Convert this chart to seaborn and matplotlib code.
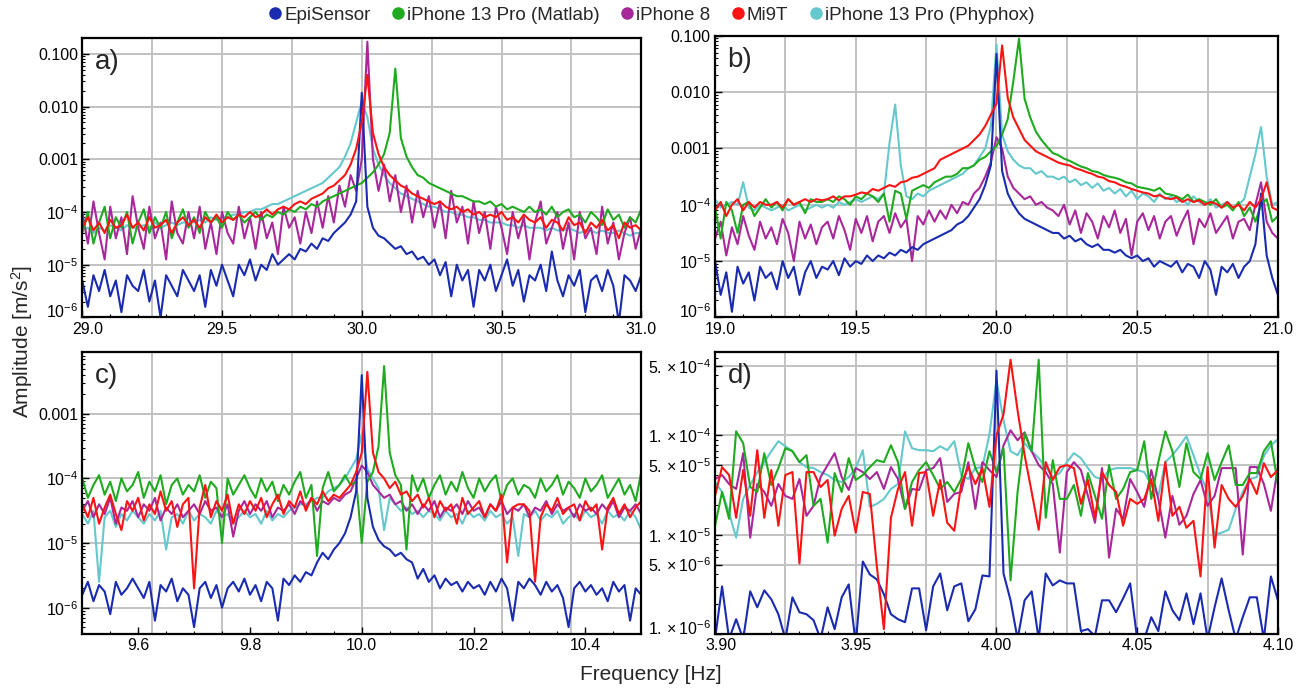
import matplotlib
matplotlib.use("Agg")
import matplotlib.pyplot as plt
import matplotlib.ticker as mticker
import matplotlib.transforms as mtransforms
from matplotlib.lines import Line2D
import numpy as np
import pandas as pd
import seaborn as sns

DEVICES = ["EpiSensor", "iPhone 13 Pro (Matlab)", "iPhone 8", "Mi9T", "iPhone 13 Pro (Phyphox)"]
COLORS = {
    "EpiSensor": "#1a2bb0",
    "iPhone 13 Pro (Matlab)": "#20aa20",
    "iPhone 8": "#a8289c",
    "Mi9T": "#fa1414",
    "iPhone 13 Pro (Phyphox)": "#64c8cc",
}
# Mi9T ends up on top, Phyphox mostly hidden underneath
DRAW_ORDER = ["iPhone 13 Pro (Phyphox)", "iPhone 8", "iPhone 13 Pro (Matlab)", "EpiSensor", "Mi9T"]

# all amplitudes stored as log10(m/s^2), evenly spaced bins over each span

# ---- a) 29.0 - 31.0 Hz ----
a_epi = [-5.3, -5.8, -5.2, -5.5, -5.1, -5.6, -5.3, -5.9, -5.2, -5.4,
         -5.5, -5.1, -5.7, -5.3, -6.0, -5.2, -5.4, -5.6, -5.1, -5.3,
         -5.5, -5.2, -5.8, -5.1, -5.4, -5.0, -5.3, -5.6, -5.0, -5.2,
         -4.9, -5.3, -5.0, -5.1, -4.8, -5.0, -4.9, -4.8, -4.9, -4.7,
         -4.75, -4.6, -4.7, -4.5, -4.55, -4.4, -4.3, -4.2, -4.05, -3.8,
         -1.74,
         -3.9, -4.3, -4.45, -4.5, -4.6, -4.7, -4.65, -4.8, -4.75, -4.9,
         -4.85, -5.0, -4.9, -5.2, -4.95, -5.6, -5.0, -5.3, -5.1, -5.8,
         -5.1, -5.3, -5.0, -5.5, -5.2, -4.9, -5.4, -5.1, -5.7, -5.2,
         -5.3, -5.0, -5.5, -4.75, -5.3, -5.6, -5.2, -5.4, -5.1, -5.9,
         -5.3, -5.2, -5.5, -5.1, -5.4, -6.1, -5.2, -5.3, -5.5, -5.2]
a_matlab = [-4.4, -4.0, -4.6, -4.2, -3.9, -4.5, -4.1, -4.3, -4.0, -4.6,
            -4.2, -3.95, -4.4, -4.1, -4.3, -4.0, -4.5, -4.2, -3.95, -4.3,
            -4.1, -4.4, -4.0, -4.2, -4.1, -4.3, -4.0, -4.15, -4.05, -4.2,
            -4.1, -4.0, -4.15, -4.05, -4.1, -4.0, -4.05, -3.95, -4.0, -3.9,
            -3.95, -3.85, -3.9, -3.8, -3.75, -3.7, -3.65, -3.6, -3.55, -3.5,
            -3.45,
            -3.35, -3.25, -3.1, -2.9, -2.5, -1.28, -2.6, -2.95, -3.15, -3.3,
            -3.35, -3.45, -3.5, -3.55, -3.6, -3.65, -3.7, -3.7, -3.75, -3.8,
            -3.8, -3.85, -3.8, -3.9, -3.85, -3.95, -3.9, -3.95, -4.0, -3.9,
            -4.0, -3.95, -4.05, -3.9, -4.1, -4.0, -3.95, -4.1, -4.05, -4.2,
            -4.0, -4.1, -4.25, -3.95, -4.15, -4.05, -4.3, -4.1, -4.2, -3.95]
a_iphone8 = [-4.0, -4.6, -3.8, -4.4, -4.9, -3.9, -4.5, -4.1, -4.8, -3.7,
             -4.3, -4.7, -3.9, -4.5, -4.2, -4.9, -3.8, -4.4, -4.6, -4.0,
             -4.5, -3.9, -4.7, -4.2, -4.8, -4.0, -4.4, -4.6, -3.9, -4.5,
             -4.1, -4.7, -4.0, -4.5, -4.2, -4.8, -3.9, -4.3, -4.1, -4.6,
             -4.0, -4.4, -3.8, -4.3, -3.7, -4.2, -3.5, -3.9, -3.3, -3.6,
             -3.0, -0.77,
             -3.0, -3.6, -3.1, -3.8, -3.3, -4.0, -3.5, -4.2, -3.6,
             -4.1, -3.7, -4.3, -3.8, -4.5, -3.6, -4.2, -3.9, -4.6, -3.8,
             -4.4, -4.0, -4.7, -3.9, -4.3, -4.8, -4.0, -4.5, -4.1, -4.9,
             -4.2, -3.8, -4.6, -4.3, -4.0, -4.7, -4.2, -4.9, -4.0, -4.5,
             -4.3, -4.8, -3.9, -4.6, -4.2, -4.9, -4.4, -4.1, -4.7, -4.3]
a_mi9t = [-4.3, -4.1, -4.35, -4.2, -4.4, -4.15, -4.3, -4.25, -4.05, -4.3,
          -4.2, -4.35, -4.1, -4.3, -4.25, -4.15, -4.4, -4.2, -4.1, -4.25,
          -4.15, -4.3, -4.1, -4.2, -4.05, -4.2, -4.1, -4.15, -4.05, -4.1,
          -4.0, -4.1, -4.05, -3.95, -4.05, -3.95, -3.9, -3.95, -3.85, -3.8,
          -3.85, -3.75, -3.7, -3.65, -3.55, -3.5, -3.4, -3.3, -3.1, -2.8,
          -2.3, -1.4,
          -2.5, -2.9, -3.15, -3.3, -3.4, -3.5, -3.55, -3.65, -3.7,
          -3.75, -3.8, -3.85, -3.8, -3.9, -3.95, -3.9, -4.0, -3.95, -4.05,
          -4.0, -4.1, -4.05, -4.1, -4.0, -4.15, -4.1, -4.2, -4.05, -4.15,
          -4.2, -4.1, -4.3, -4.15, -4.2, -4.35, -4.1, -4.25, -4.2, -4.4,
          -4.2, -4.3, -4.15, -4.35, -4.25, -4.5, -4.2, -4.3, -4.25, -4.35]
a_phyphox = [-4.35, -4.3, -4.4, -4.3, -4.35, -4.25, -4.3, -4.35, -4.25, -4.3,
             -4.3, -4.25, -4.3, -4.2, -4.3, -4.25, -4.2, -4.25, -4.2, -4.2,
             -4.2, -4.15, -4.2, -4.1, -4.15, -4.1, -4.1, -4.05, -4.05, -4.0,
             -4.0, -3.95, -3.95, -3.9, -3.85, -3.85, -3.8, -3.75, -3.7, -3.65,
             -3.6, -3.55, -3.5, -3.45, -3.35, -3.25, -3.15, -2.95, -2.7, -2.3,
             -1.9, -2.2,
             -2.8, -3.1, -3.3, -3.45, -3.55, -3.65, -3.7, -3.75, -3.8,
             -3.85, -3.9, -3.9, -3.95, -4.0, -4.0, -4.05, -4.05, -4.1, -4.1,
             -4.15, -4.15, -4.2, -4.2, -4.2, -4.25, -4.25, -4.3, -4.25, -4.3,
             -4.3, -4.3, -4.35, -4.3, -4.35, -4.35, -4.3, -4.35, -4.4, -4.35,
             -4.35, -4.4, -4.35, -4.4, -4.4, -4.35, -4.4, -4.45, -4.4, -4.4]

# ---- b) 19.0 - 21.0 Hz ----
b_epi = [-5.0, -5.6, -5.2, -5.9, -5.1, -5.4, -5.2, -5.7, -5.1, -5.3,
         -5.2, -5.5, -5.0, -5.3, -5.1, -5.6, -5.2, -5.0, -5.3, -5.1,
         -5.15, -5.0, -5.25, -4.95, -5.1, -5.0, -5.05, -4.9, -5.0, -4.9,
         -4.95, -4.85, -4.9, -4.8, -4.85, -4.75, -4.8, -4.7, -4.65, -4.6,
         -4.55, -4.5, -4.45, -4.35, -4.3, -4.2, -4.05, -3.9, -3.65, -3.3,
         -1.32,
         -3.4, -3.8, -4.0, -4.15, -4.25, -4.3, -4.35, -4.4, -4.45, -4.5,
         -4.5, -4.6, -4.55, -4.65, -4.6, -4.7, -4.75, -4.7, -4.8, -4.8,
         -4.85, -4.8, -4.9, -4.95, -4.9, -5.0, -4.95, -5.1, -5.0, -5.05,
         -5.1, -5.0, -5.2, -5.05, -5.1, -5.3, -5.0, -5.15, -5.6, -5.1,
         -5.2, -5.05, -5.3, -5.1, -5.0, -4.7, -3.8, -4.9, -5.3, -5.6]
b_matlab = [-4.05, -4.6, -3.95, -4.1, -4.5, -4.0, -3.95, -4.2, -4.05, -3.9,
            -4.05, -3.95, -4.1, -3.9, -4.0, -3.95, -4.15, -3.9, -3.95, -3.95,
            -3.9, -3.95, -3.85, -3.9, -4.0, -3.85, -3.9, -3.8, -3.85, -3.95,
            -3.8, -4.3, -3.75, -3.8, -4.25, -3.75, -3.7, -3.65, -3.7, -3.6,
            -3.55, -3.5, -3.5, -3.45, -3.35, -3.35, -3.3, -3.2, -3.15, -3.05,
            -2.96,
            -2.75, -2.48, -1.8, -1.05, -2.12, -2.45, -2.7, -2.85, -2.97, -3.08,
            -3.12, -3.18, -3.22, -3.27, -3.32, -3.35, -3.4, -3.42, -3.47, -3.5,
            -3.52, -3.55, -3.6, -3.62, -3.68, -3.7, -3.72, -3.75, -3.7, -3.8,
            -3.82, -3.85, -3.9, -3.82, -3.95, -3.9, -3.95, -4.0, -3.9, -4.05,
            -4.0, -4.1, -3.95, -4.2, -4.05, -4.3, -4.0, -3.9, -4.3, -4.2]
b_iphone8 = [-4.6, -4.3, -4.9, -4.4, -4.7, -4.2, -4.55, -4.8, -4.3, -4.6,
             -4.4, -4.7, -4.25, -4.5, -5.0, -4.3, -4.6, -4.35, -4.7, -4.4,
             -4.3, -4.6, -4.2, -4.45, -4.8, -4.25, -4.5, -4.2, -4.65, -4.3,
             -4.2, -4.5, -4.15, -4.4, -4.25, -5.0, -4.2, -4.35, -4.1, -4.3,
             -4.1, -4.25, -4.0, -4.15, -3.95, -4.0, -3.8, -3.7, -3.5, -3.25,
             -2.8,
             -3.0, -3.5, -3.7, -3.8, -3.9, -3.85, -4.0, -3.95, -4.05, -4.1,
             -4.2, -4.0, -4.35, -4.1, -4.5, -4.15, -4.3, -4.6, -4.2, -4.4,
             -4.1, -4.5, -4.25, -4.9, -4.3, -4.15, -4.45, -4.2, -4.6, -4.3,
             -4.2, -4.55, -4.3, -4.1, -4.7, -4.25, -4.4, -4.15, -4.5, -4.35,
             -4.2, -4.6, -4.3, -4.25, -4.45, -4.0, -3.6, -4.3, -4.5, -4.6]
b_mi9t = [-4.1, -3.95, -4.2, -4.0, -3.9, -4.1, -3.95, -4.05, -3.95, -4.0,
          -4.0, -3.95, -4.05, -3.9, -4.0, -3.95, -3.9, -3.95, -3.9, -3.92,
          -3.9, -3.85, -3.92, -3.85, -3.85, -3.82, -3.78, -3.8, -3.72, -3.75,
          -3.7, -3.65, -3.68, -3.6, -3.58, -3.52, -3.5, -3.45, -3.4, -3.35,
          -3.2, -3.15, -3.1, -3.05, -3.0, -2.95, -2.85, -2.75, -2.6, -2.4,
          -2.2, -1.17,
          -2.1, -2.45, -2.65, -2.85, -2.95, -3.05, -3.1, -3.15, -3.2,
          -3.25, -3.28, -3.3, -3.35, -3.38, -3.42, -3.45, -3.5, -3.52, -3.58,
          -3.6, -3.65, -3.68, -3.72, -3.75, -3.78, -3.8, -3.85, -3.83, -3.88,
          -3.9, -3.87, -3.95, -3.9, -3.95, -3.92, -4.0, -3.95, -3.98, -4.05,
          -3.95, -4.05, -4.0, -4.1, -3.95, -4.05, -3.9, -3.6, -4.05, -4.1]
b_phyphox = [-3.9, -4.05, -4.0, -3.95, -4.0, -3.6, -4.05, -4.1, -4.0, -4.05,
             -4.1, -4.05, -4.0, -4.1, -4.05, -4.0, -4.1, -4.05, -4.0, -4.05,
             -4.0, -4.05, -3.95, -4.0, -3.95, -3.9, -3.95, -3.9, -3.85, -3.9,
             -3.8, -2.9, -2.22, -3.3, -3.85, -3.9, -3.8, -3.85, -3.75, -3.7,
             -3.65, -3.6, -3.55, -3.5, -3.45, -3.35, -3.3, -3.15, -3.0, -2.6,
             -1.15,
             -2.75, -3.05, -3.2, -3.3, -3.35, -3.35, -3.45, -3.4, -3.5, -3.5,
             -3.55, -3.5, -3.6, -3.55, -3.65, -3.6, -3.7, -3.62, -3.75, -3.7,
             -3.8, -3.72, -3.85, -3.75, -3.9, -3.8, -3.85, -3.95, -3.8, -3.9,
             -3.85, -3.95, -3.9, -4.0, -3.85, -3.95, -4.0, -3.9, -4.05, -4.0,
             -3.95, -4.05, -4.0, -3.9, -3.5, -3.1, -2.62, -3.5, -4.0, -3.95]

# ---- c) 9.5 - 10.5 Hz ----
c_epi = [-5.8, -5.6, -5.9, -5.65, -5.75, -6.1, -5.6, -5.8, -5.7, -5.55,
         -5.7, -5.85, -5.6, -6.2, -5.65, -5.75, -5.55, -5.9, -5.7, -5.8,
         -6.3, -5.7, -5.6, -5.85, -5.65, -6.0, -5.7, -5.6, -5.75, -5.55,
         -5.8, -5.65, -5.9, -5.6, -5.7, -6.2, -5.55, -5.65, -5.5, -5.6,
         -5.45, -5.5, -5.3, -5.15, -5.25, -5.1, -5.0, -4.85, -4.6, -4.2,
         -2.4,
         -4.3, -4.75, -4.95, -5.05, -5.1, -5.2, -5.15, -5.25, -5.3, -5.55,
         -5.4, -5.6, -5.5, -5.7, -5.55, -5.65, -5.6, -5.75, -5.6, -5.7,
         -5.65, -5.8, -5.6, -5.75, -5.55, -5.7, -6.2, -5.6, -5.7, -5.55,
         -5.65, -5.8, -5.6, -5.75, -5.65, -5.85, -6.3, -5.7, -5.6, -5.75,
         -5.65, -5.8, -5.7, -5.9, -5.6, -5.75, -5.65, -6.2, -5.7, -5.8]
c_matlab = [-4.0, -4.3, -4.1, -3.95, -4.25, -4.05, -4.35, -4.0, -4.2, -4.1,
            -3.9, -4.3, -4.05, -4.2, -3.95, -4.4, -4.1, -4.0, -4.25, -4.1,
            -4.2, -3.95, -4.3, -4.05, -4.15, -5.0, -4.0, -4.25, -4.1, -3.95,
            -4.15, -4.3, -4.0, -4.2, -4.05, -4.35, -4.1, -4.25, -4.05, -3.9,
            -4.3, -4.1, -5.2, -4.15, -3.9, -4.2, -4.1, -3.95, -4.1, -4.05,
            -5.0,
            -4.05, -3.9, -3.5, -2.26, -3.6, -3.95, -4.1, -5.1, -3.95, -4.2,
            -4.0, -4.3, -4.1, -3.95, -4.25, -4.05, -4.2, -3.9, -4.15, -4.3,
            -4.0, -4.2, -4.05, -3.95, -4.35, -4.1, -4.0, -4.25, -4.1, -4.15,
            -4.3, -4.0, -4.2, -4.1, -3.95, -4.25, -4.05, -4.15, -4.3, -4.0,
            -4.2, -4.1, -3.95, -4.3, -4.15, -4.0, -4.25, -4.1, -4.35, -3.9]
c_iphone8 = [-4.5, -4.35, -4.6, -4.4, -4.55, -4.3, -4.7, -4.45, -4.5, -4.35,
             -4.6, -4.4, -4.5, -4.3, -4.65, -4.45, -4.55, -4.4, -4.6, -4.5,
             -4.4, -4.55, -4.35, -4.5, -4.45, -4.6, -4.4, -4.9, -4.5, -4.35,
             -4.55, -4.4, -4.5, -4.35, -4.6, -4.45, -4.5, -4.4, -4.55, -4.35,
             -4.45, -4.3, -4.5, -4.35, -4.4, -4.3, -4.35, -4.25, -4.2, -4.0,
             -3.8,
             -3.9, -4.1, -4.2, -4.3, -4.25, -4.4, -4.35, -4.5, -4.4, -4.55,
             -4.4, -4.5, -4.35, -4.6, -4.45, -4.5, -4.4, -4.55, -4.35, -4.5,
             -4.45, -4.6, -4.4, -4.5, -4.35, -4.55, -4.45, -4.5, -4.4, -4.6,
             -4.45, -4.5, -4.35, -4.55, -4.4, -4.5, -4.45, -4.6, -4.4, -4.5,
             -4.45, -4.55, -4.4, -4.5, -4.35, -4.6, -4.45, -4.5, -4.4, -4.55]
c_mi9t = [-4.4, -4.6, -4.3, -4.7, -4.45, -4.25, -4.55, -4.8, -4.35, -4.5,
          -4.3, -4.65, -4.4, -4.55, -4.2, -4.5, -4.35, -4.75, -4.4, -4.3,
          -5.7, -4.45, -4.1, -4.6, -4.35, -4.5, -4.25, -4.7, -4.4, -4.55,
          -4.35, -4.5, -4.3, -4.6, -4.4, -4.25, -4.55, -4.35, -4.45, -4.2,
          -4.5, -4.3, -4.4, -4.2, -4.35, -4.25, -4.3, -4.2, -4.1, -3.9,
          -3.6, -2.35,
          -3.6, -3.9, -4.0, -4.15, -4.05, -4.25, -4.2, -4.35, -4.25,
          -4.45, -4.3, -4.6, -4.35, -4.5, -4.4, -4.7, -4.3, -4.55, -4.45,
          -4.35, -4.6, -4.4, -4.5, -4.25, -5.3, -4.45, -4.4, -4.4, -4.5,
          -5.6, -4.6, -4.4, -4.5, -4.3, -4.55, -4.45, -4.4, -4.65, -4.35,
          -4.5, -4.4, -5.1, -4.45, -4.3, -4.55, -4.4, -4.6, -4.45, -4.35]
c_phyphox = [-4.55, -4.7, -4.5, -5.6, -4.6, -4.5, -4.75, -4.55, -4.65, -4.5,
             -4.6, -4.7, -4.55, -4.65, -4.5, -5.1, -4.6, -4.55, -4.7, -4.5,
             -4.65, -4.55, -4.6, -4.7, -4.5, -4.6, -4.55, -4.7, -4.6, -4.5,
             -4.6, -4.55, -4.7, -4.5, -4.65, -4.55, -4.6, -4.5, -4.45, -4.4,
             -4.4, -4.35, -4.3, -4.3, -4.2, -4.15, -4.1, -4.0, -3.85, -3.7,
             -3.3,
             -3.85, -4.0, -4.15, -4.8, -4.3, -4.4, -4.5, -4.45, -4.55, -4.5,
             -4.6, -4.5, -4.55, -4.65, -4.5, -4.6, -4.55, -4.7, -4.5, -4.6,
             -4.55, -4.65, -4.5, -4.6, -4.55, -4.7, -4.6, -5.2, -4.55, -4.6,
             -4.5, -4.65, -4.55, -4.6, -4.5, -4.7, -4.6, -4.55, -4.65, -4.5,
             -4.6, -4.55, -4.7, -4.5, -4.6, -4.55, -4.65, -4.5, -4.6, -4.8]

# ---- d) 3.90 - 4.10 Hz ----
d_epi = [-6.05, -5.52, -6.05, -5.85, -6.05, -5.57, -5.73, -5.56, -5.65, -5.8,
         -6.05, -5.63, -5.78, -5.8, -5.86, -6.05, -5.73, -5.95, -5.63, -5.5,
         -6.1, -5.27, -5.4, -5.45, -5.6, -5.8, -5.85, -5.88, -5.54, -5.54,
         -5.96, -5.52, -5.39, -5.76, -5.52, -5.49, -5.87, -5.75, -5.41, -5.42,
         -3.35,
         -5.39, -5.66, -6.05, -5.66, -5.57, -6.05, -5.39, -5.51, -5.46, -5.49,
         -5.49, -5.97, -5.95, -6.02, -5.66, -5.66, -5.78, -5.64, -5.49, -6.05,
         -6.05, -5.83, -5.97, -5.57, -5.76, -5.86, -5.59, -5.9, -5.59, -6.05,
         -5.73, -5.44, -5.76, -6.05, -5.83, -5.63, -5.63, -6.05, -5.42, -5.66]
d_matlab = [-4.91, -4.57, -4.84, -3.96, -4.08, -4.52, -4.57, -4.18, -4.5, -4.33,
            -4.13, -4.16, -4.27, -4.2, -4.71, -4.64, -5.08, -4.38, -4.57, -4.23,
            -4.45, -4.4, -4.32, -4.25, -4.27, -4.1, -4.27, -4.74, -4.47, -4.35,
            -4.27, -4.4, -4.54, -4.47, -4.57, -4.44, -4.08, -4.33, -4.47, -4.16,
            -4.37,
            -4.13, -5.46, -4.57, -3.98, -4.16, -3.24, -4.83, -4.25, -4.64, -4.64,
            -4.5, -4.81, -4.38, -4.61, -4.84, -4.3, -4.64, -4.54, -4.37, -4.35,
            -4.06, -4.64, -4.27, -3.96, -4.16, -4.52, -4.08, -4.37, -4.44, -4.18,
            -4.45, -4.27, -4.1, -4.5, -4.5, -4.38, -4.38, -4.16, -4.06, -4.49]
d_iphone8 = [-4.44, -4.4, -4.49, -4.54, -4.18, -5.03, -4.49, -4.57, -4.71, -4.49,
             -4.61, -4.64, -4.44, -4.81, -4.71, -4.42, -4.3, -4.18, -4.42, -4.55,
             -4.33, -4.37, -4.44, -4.37, -4.54, -4.32, -4.44, -4.74, -4.54, -4.55,
             -4.35, -4.33, -4.23, -4.67, -4.59, -4.57, -4.27, -4.74, -4.27, -4.35,
             -4.42,
             -4.1, -3.95, -4.05, -3.97, -4.16, -4.3, -4.37, -4.49, -5.18, -4.37,
             -4.27, -4.35, -4.61, -4.88, -4.33, -5.23, -4.74, -4.84, -4.44, -4.57,
             -4.72, -4.35, -4.64, -5.03, -4.61, -4.9, -4.81, -4.59, -4.45, -4.71,
             -4.61, -4.33, -4.33, -4.33, -5.2, -4.32, -4.32, -4.49, -4.76, -4.32]
d_mi9t = [-4.61, -4.32, -4.4, -4.83, -4.35, -4.81, -4.15, -4.83, -4.35, -4.91,
          -4.4, -4.37, -5.29, -4.37, -4.37, -4.52, -4.45, -5.01, -4.74, -4.61,
          -4.98, -4.57, -4.59, -5.32, -5.95, -4.83, -4.54, -4.37, -4.91, -4.38,
          -4.37, -4.81, -4.45, -4.88, -4.96, -4.49, -4.32, -4.49, -4.33, -4.72,
          -4.0,
          -3.79, -3.24, -3.75, -4.2, -4.57, -4.95, -4.27, -4.45, -4.32, -4.3,
          -4.33, -4.69, -4.45, -4.83, -4.37, -4.5, -4.57, -4.91, -4.64, -4.69,
          -4.64, -4.44, -4.86, -4.27, -4.81, -4.72, -4.93, -4.86, -5.42, -4.32,
          -5.13, -4.5, -4.64, -4.72, -4.61, -4.44, -4.59, -4.28, -4.42, -4.35]
d_phyphox = [-4.47, -4.57, -4.78, -5.03, -4.64, -4.5, -4.37, -4.27, -4.16, -4.06,
             -4.11, -4.16, -4.27, -4.32, -4.33, -4.37, -4.4, -4.45, -4.47, -4.42,
             -4.33, -4.15, -4.72, -4.69, -4.64, -4.54, -4.49, -3.96, -4.13, -4.15,
             -4.15, -4.16, -4.11, -4.15, -4.06, -4.4, -4.44, -4.33, -4.32, -3.99,
             -3.45,
             -3.85, -4.16, -4.2, -4.08, -4.16, -4.23, -4.32, -4.42, -4.38, -4.27,
             -4.18, -4.23, -4.33, -4.42, -4.44, -4.35, -4.33, -4.33, -4.33, -4.35,
             -4.37, -4.5, -4.61, -4.27, -4.2, -4.11, -4.01, -4.2, -4.4, -4.57,
             -5.0, -4.98, -4.95, -4.74, -4.57, -4.44, -4.42, -4.21, -4.1, -4.04]

PANELS = [
    dict(tag="a)", span=(29.0, 31.0), ylim=(1e-6, 0.2),
         series=[a_epi, a_matlab, a_iphone8, a_mi9t, a_phyphox],
         xticks=[29.0, 29.5, 30.0, 30.5, 31.0], xfmt="%.1f", xminor=0.1,
         grid_x=[29.25, 29.5, 29.75, 30.0, 30.25, 30.5, 30.75],
         yticks=[0.1, 0.01, 0.001, 1e-4, 1e-5, 1e-6],
         ylabels=["0.100", "0.010", "0.001", "$10^{-4}$", "$10^{-5}$", "$10^{-6}$"]),
    dict(tag="b)", span=(19.0, 21.0), ylim=(1e-6, 0.1),
         series=[b_epi, b_matlab, b_iphone8, b_mi9t, b_phyphox],
         xticks=[19.0, 19.5, 20.0, 20.5, 21.0], xfmt="%.1f", xminor=0.1,
         grid_x=[19.25, 19.5, 19.75, 20.0, 20.25, 20.5, 20.75],
         yticks=[0.1, 0.01, 0.001, 1e-4, 1e-5, 1e-6],
         ylabels=["0.100", "0.010", "0.001", "$10^{-4}$", "$10^{-5}$", "$10^{-6}$"]),
    dict(tag="c)", span=(9.5, 10.5), ylim=(3.9e-7, 9.1e-3),
         series=[c_epi, c_matlab, c_iphone8, c_mi9t, c_phyphox],
         xticks=[9.6, 9.8, 10.0, 10.2, 10.4], xfmt="%.1f", xminor=0.05,
         grid_x=[9.625, 9.75, 9.875, 10.0, 10.125, 10.25, 10.375],
         yticks=[0.001, 1e-4, 1e-5, 1e-6],
         ylabels=["0.001", "$10^{-4}$", "$10^{-5}$", "$10^{-6}$"]),
    dict(tag="d)", span=(3.9, 4.1), ylim=(1e-6, 6.9e-4),
         series=[d_epi, d_matlab, d_iphone8, d_mi9t, d_phyphox],
         xticks=[3.90, 3.95, 4.00, 4.05, 4.10], xfmt="%.2f", xminor=0.01,
         grid_x=[3.925, 3.95, 3.975, 4.0, 4.025, 4.05, 4.075],
         yticks=[5e-4, 1e-4, 5e-5, 1e-5, 5e-6, 1e-6],
         ylabels=[r"$5.\times10^{-4}$", r"$1.\times10^{-4}$", r"$5.\times10^{-5}$",
                  r"$1.\times10^{-5}$", r"$5.\times10^{-6}$", r"$1.\times10^{-6}$"]),
]

# axes boxes in figure fractions: left, bottom, width, height
BOXES = [
    (0.063, 0.540, 0.428, 0.405),
    (0.5475, 0.540, 0.431, 0.408),
    (0.063, 0.081, 0.428, 0.409),
    (0.5475, 0.081, 0.431, 0.409),
]

sns.set_theme(style="white")
plt.rcParams.update({
    "font.family": ["Liberation Sans", "DejaVu Sans"],
    "mathtext.fontset": "custom",
    "mathtext.rm": "Liberation Sans",
    "mathtext.it": "Liberation Sans:italic",
    "mathtext.bf": "Liberation Sans:bold",
    "axes.edgecolor": "black",
    "axes.linewidth": 1.6,
})


def panel_frame(p):
    parts = []
    for name, logs in zip(DEVICES, p["series"]):
        freq = np.linspace(p["span"][0], p["span"][1], len(logs))
        parts.append(pd.DataFrame({"freq": freq,
                                   "amp": 10.0 ** np.asarray(logs),
                                   "device": name}))
    return pd.concat(parts, ignore_index=True)


def style_panel(ax, p):
    ax.set_yscale("log")
    ax.set_xlim(*p["span"])
    ax.set_ylim(*p["ylim"])
    for gx in p["grid_x"]:
        ax.axvline(gx, color="#c2c2c2", lw=1.4, zorder=0)
    for gy in p["yticks"]:
        ax.axhline(gy, color="#c2c2c2", lw=1.4, zorder=0)

    ax.xaxis.set_major_locator(mticker.FixedLocator(p["xticks"]))
    ax.xaxis.set_major_formatter(mticker.FormatStrFormatter(p["xfmt"]))
    ax.xaxis.set_minor_locator(mticker.MultipleLocator(p["xminor"]))
    ax.yaxis.set_major_locator(mticker.FixedLocator(p["yticks"]))
    ax.yaxis.set_major_formatter(mticker.FixedFormatter(p["ylabels"]))
    ax.yaxis.set_minor_locator(mticker.LogLocator(base=10, subs=np.arange(2, 10)))
    ax.yaxis.set_minor_formatter(mticker.NullFormatter())

    ax.tick_params(which="both", direction="in", top=False, right=False,
                   bottom=True, left=True, labelsize=11.5, colors="black")
    ax.tick_params(which="major", length=5, width=1.0, pad=3)
    ax.tick_params(which="minor", length=2.5, width=0.8)
    ax.set_xlabel("")
    ax.set_ylabel("")
    ax.text(0.022, 0.915, p["tag"], transform=ax.transAxes,
            fontsize=20, ha="left", va="center")

    # the corner labels crowd each other; nudge them apart a little
    fig = ax.figure
    if p["span"][0] in p["xticks"]:
        first_x = ax.xaxis.get_major_ticks()[0].label1
        first_x.set_transform(first_x.get_transform() +
                              mtransforms.ScaledTranslation(4 / 72, 0, fig.dpi_scale_trans))
    if p["ylim"][0] in p["yticks"]:
        low_y = ax.yaxis.get_major_ticks()[p["yticks"].index(p["ylim"][0])].label1
        low_y.set_transform(low_y.get_transform() +
                            mtransforms.ScaledTranslation(0, 5 / 72, fig.dpi_scale_trans))


fig = plt.figure(figsize=(13.06, 6.9), dpi=100)

for p, box in zip(PANELS, BOXES):
    ax = fig.add_axes(box)
    df = panel_frame(p)
    sns.lineplot(data=df, x="freq", y="amp", hue="device",
                 hue_order=DRAW_ORDER, palette=COLORS,
                 estimator=None, errorbar=None, sort=False,
                 legend=False, lw=1.5, ax=ax)
    style_panel(ax, p)

handles = [Line2D([], [], ls="", marker="o", markersize=8,
                  color=COLORS[d]) for d in DEVICES]
fig.legend(handles, DEVICES, loc="center", bbox_to_anchor=(0.498, 0.978),
           ncol=5, frameon=False, fontsize=13.5, handletextpad=0.05,
           columnspacing=1.0, handlelength=0.9)

fig.text(0.017, 0.505, "Amplitude [m/s$^2$]", rotation=90,
         ha="center", va="center", fontsize=15)
fig.text(0.498, 0.022, "Frequency [Hz]", ha="center", va="center", fontsize=15)

fig.savefig("out.png", dpi=100)
plt.close(fig)
